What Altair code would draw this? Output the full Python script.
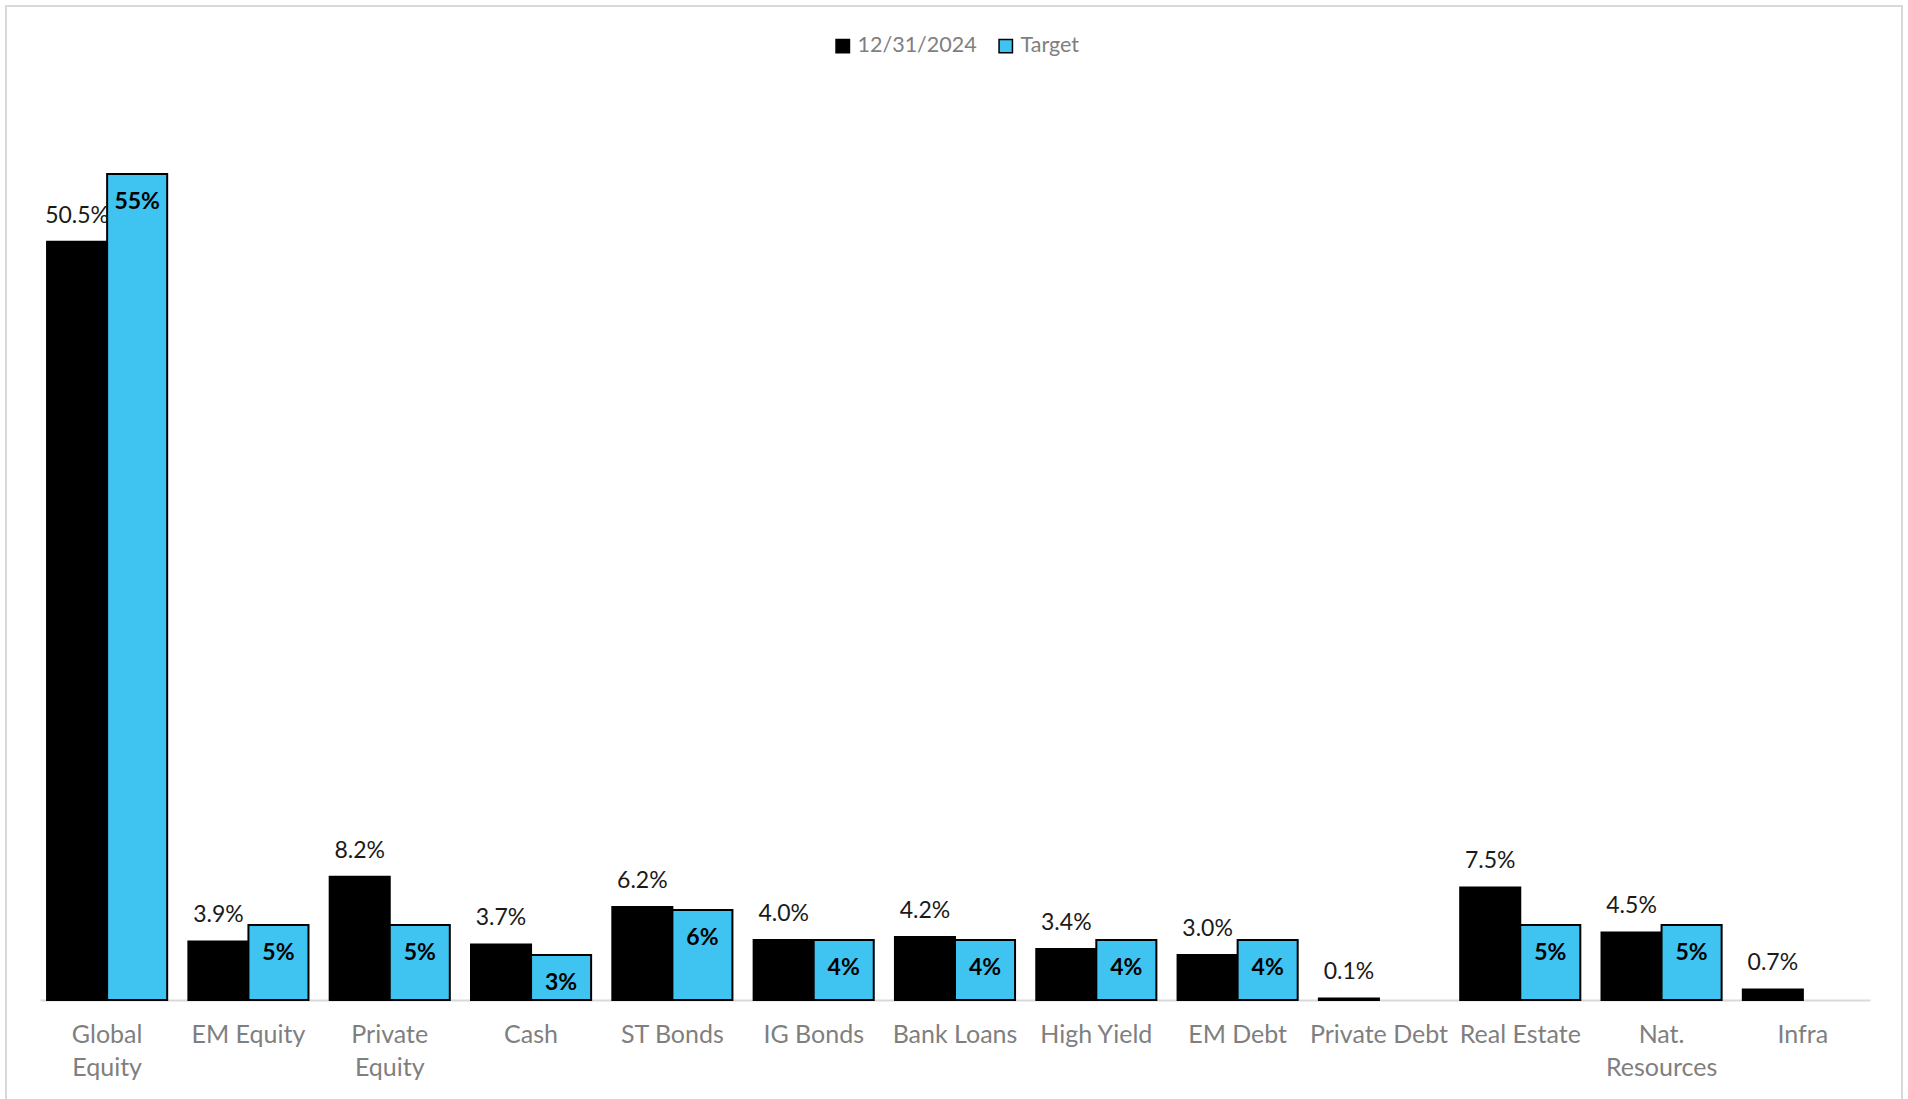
import altair as alt
import pandas as pd

categories = ["Global Equity", "EM Equity", "Private Equity", "Cash", "ST Bonds",
              "IG Bonds", "Bank Loans", "High Yield", "EM Debt", "Private Debt",
              "Real Estate", "Nat. Resources", "Infra"]
current = [50.5, 3.9, 8.2, 3.7, 6.2, 4.0, 4.2, 3.4, 3.0, 0.1, 7.5, 4.5, 0.7]
target = [55, 5, 5, 3, 6, 4, 4, 4, 4, None, 5, 5, None]
series_names = ["12/31/2024", "Target"]
series_colors = ["#000000", "#3FC3F1"]
label_lines = {
    "Global Equity": ["Global", "Equity"],
    "Private Equity": ["Private", "Equity"],
    "Nat. Resources": ["Nat.", "Resources"],
}

rows = []
for c, v in zip(categories, current):
    rows.append({"category": c, "series": series_names[0], "value": v, "label": f"{v:.1f}%"})
for c, v in zip(categories, target):
    if v is not None:
        rows.append({"category": c, "series": series_names[1], "value": v, "label": f"{v:.0f}%"})
df = pd.DataFrame(rows)

expr = "datum.label"
for k, lines in label_lines.items():
    arr = "[" + ",".join(f"'{s}'" for s in lines) + "]"
    expr = f"datum.label == '{k}' ? {arr} : ({expr})"

FONT = "Lato"

x_enc = alt.X("category:N", sort=categories, title=None,
              scale=alt.Scale(paddingInner=0.15, paddingOuter=0.05),
              axis=alt.Axis(labelAngle=0, labelColor="#7f7f7f", labelFontSize=25,
                            labelFont=FONT, domainColor="#d9d9d9", domainWidth=2,
                            ticks=False, labelPadding=22, labelLineHeight=33,
                            labelExpr=expr, grid=False))
y_enc = alt.Y("value:Q", scale=alt.Scale(domain=[0, 60]), axis=None, title=None)
off = alt.XOffset("series:N", sort=series_names)

base = alt.Chart(df)

bars = base.mark_bar(stroke="black", strokeWidth=2).encode(
    x=x_enc, xOffset=off, y=y_enc,
    color=alt.Color("series:N", sort=series_names,
                    scale=alt.Scale(domain=series_names, range=series_colors),
                    legend=alt.Legend(title=None, orient="none", direction="horizontal",
                                      legendX=792, legendY=-64, labelFont=FONT,
                                      labelFontSize=21.5, labelColor="#7f7f7f",
                                      symbolType="square", symbolSize=180,
                                      symbolStrokeColor="black", symbolStrokeWidth=1.5,
                                      columnPadding=18, labelOffset=4)),
)

cur_text = base.transform_filter(alt.datum.series == series_names[0]).mark_text(
    font=FONT, fontSize=23, color="#1a1a1a", dy=-26, baseline="middle"
).encode(x=x_enc, xOffset=off, y=y_enc, text="label:N")

tgt_text = base.transform_filter(alt.datum.series == series_names[1]).mark_text(
    font=FONT, fontSize=23, fontWeight="bold", color="#000000", dy=28, baseline="middle"
).encode(x=x_enc, xOffset=off, y=y_enc, text="label:N")

frame = alt.Chart(pd.DataFrame({"a": [0]})).mark_rect(
    fill=None, stroke="#d9d9d9", strokeWidth=2
).encode(x=alt.value(-34), x2=alt.value(1862), y=alt.value(-93), y2=alt.value(1010))

chart = alt.layer(frame, bars, cur_text, tgt_text).properties(
    width=1830, height=901,
    autosize=alt.AutoSizeParams(type="none"),
    padding={"left": 40, "top": 99, "right": 38, "bottom": 99},
).configure(background="white").configure_view(stroke=None, strokeWidth=0)

chart.save("out.html", embed_options={"renderer": "svg", "actions": False})
